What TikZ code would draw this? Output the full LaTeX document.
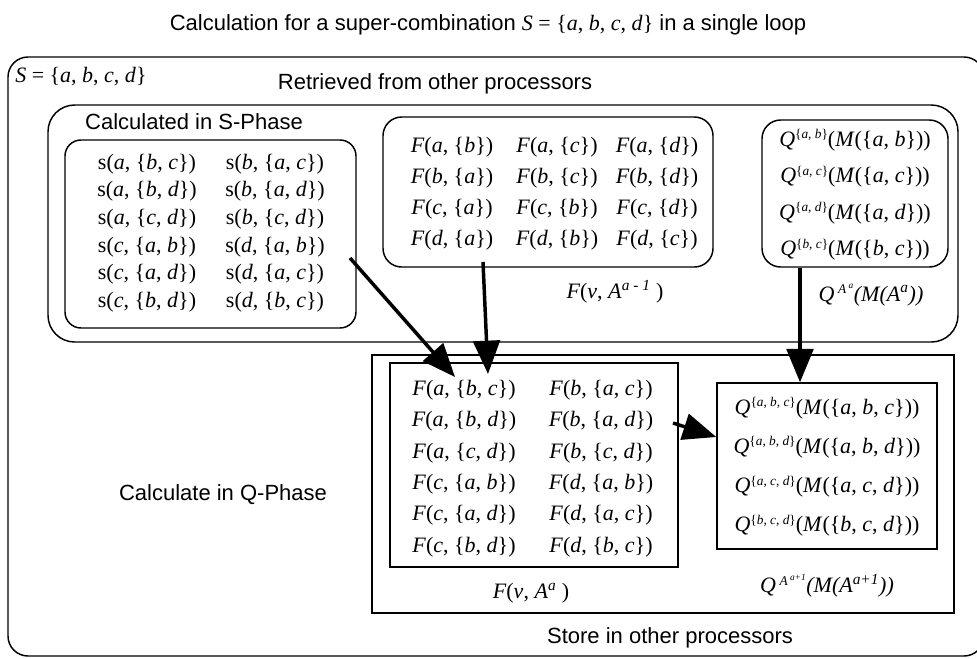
\documentclass[tikz,border=0pt]{standalone}
\usepackage{fontspec}
\setmainfont{Liberation Sans}
\newfontfamily\tms{Liberation Serif}
\usetikzlibrary{arrows.meta,fit}

% entries of the boxes
\newcommand{\vi}[1]{\textit{#1}}
\newcommand{\hi}[1]{\raisebox{0.75ex}{\fontsize{10}{10}\selectfont #1}}
\newcommand{\sent}[3]{s(\vi{#1}, \{\vi{#2}, \vi{#3}\})}
\newcommand{\fone}[2]{\vi{F}(\vi{#1}, \{\vi{#2}\})}
\newcommand{\ftwo}[3]{\vi{F}(\vi{#1}, \{\vi{#2}, \vi{#3}\})}
\newcommand{\qtwo}[2]{\vi{Q}\hi{\{\vi{#1}, \vi{#2}\}}(\vi{M}(\{\vi{#1}, \vi{#2}\}))}
\newcommand{\qthree}[3]{\vi{Q}\hi{\{\vi{#1}, \vi{#2}, \vi{#3}\}}(\vi{M}(\{\vi{#1}, \vi{#2}, \vi{#3}\}))}

\begin{document}
\begin{tikzpicture}[x=0.75pt, y=-0.75pt,
  lbl/.style={font=\fontsize{16.5}{18}\selectfont, inner sep=0pt},
  cell/.style={font=\tms\fontsize{16.5}{18}\selectfont, inner sep=0pt},
  rbox/.style={draw, line width=1.1pt, inner sep=0pt},
  arr/.style={line width=2.6pt, -{Triangle[length=25pt,width=20pt]}}]
  \useasboundingbox (0,0) rectangle (977,658);

  \node[lbl] (title) at (488,25)
    {Calculation for a super-combination {\tms\vi{S} = \{\vi{a}, \vi{b}, \vi{c}, \vi{d}\}} in a single loop};

  % containers
  \node[rbox, rounded corners=15pt, fit={(8,57) (984,656)}] (outer) {};
  \node[rbox, rounded corners=20pt, fit={(48,105) (958,342)}] (retr) {};
  \node[rbox, rounded corners=12pt, fit={(65,140) (356,328)}] (sbox) {};
  \node[rbox, rounded corners=14pt, fit={(383,117) (713,267)}] (fold) {};
  \node[rbox, rounded corners=14pt, fit={(762,120) (948,267)}] (qold) {};
  \node[rbox, fit={(372,355) (954,613)}] (qphase) {};
  \node[rbox, fit={(390,363) (678,567)}] (fnew) {};
  \node[rbox, fit={(717,383) (937,549)}] (qnew) {};

  \node[cell, anchor=west] (sset) at (15,77) {\vi{S} = \{\vi{a}, \vi{b}, \vi{c}, \vi{d}\}};
  \node[lbl] (retrlbl) at (435,84) {Retrieved from other processors};
  \node[lbl] (slbl) at (194,122) {Calculated in S-Phase};
  \node[lbl] (qlbl) at (223,495) {Calculate in Q-Phase};
  \node[lbl] (store) at (670,638) {Store in other processors};

  % S-Phase values
  \foreach \a/\b/\c/\d/\e/\f [count=\i from 0] in
      {a/b/c/b/a/c, a/b/d/b/a/d, a/c/d/b/c/d, c/a/b/d/a/b, c/a/d/d/a/c, c/b/d/d/b/c} {
    \node[cell] (sl\i) at (147,164+27.6*\i) {\sent\a\b\c};
    \node[cell] (sr\i) at (275,164+27.6*\i) {\sent\d\e\f};
  }
  % retrieved F and Q
  \foreach \v/\p/\q/\r [count=\i from 0] in {a/b/c/d, b/a/c/d, c/a/b/d, d/a/b/c} {
    \node[cell] (fa\i) at (452,147+31*\i) {\fone\v\p};
    \node[cell] (fb\i) at (557,147+31*\i) {\fone\v\q};
    \node[cell] (fc\i) at (657,147+31*\i) {\fone\v\r};
  }
  \foreach \p/\q [count=\i from 0] in {a/b, a/c, a/d, b/c}
    \node[cell] (qa\i) at (855,140+36.5*\i) {\qtwo\p\q};
  \node[cell] (foldlbl) at (615,292) {\vi{F}(\vi{v}, \vi{A}\textsuperscript{\vi{a - 1}} )};
  \node[cell] (qoldlbl) at (871,295) {\vi{Q\,\hi{A\,\textsuperscript{a}}(M(A\textsuperscript{a}))}};

  % Q-Phase values
  \foreach \a/\b/\c/\d/\e/\f [count=\i from 0] in
      {a/b/c/b/a/c, a/b/d/b/a/d, a/c/d/b/c/d, c/a/b/d/a/b, c/a/d/d/a/c, c/b/d/d/b/c} {
    \node[cell] (fl\i) at (464,390+31.4*\i) {\ftwo\a\b\c};
    \node[cell] (fr\i) at (601,390+31.4*\i) {\ftwo\d\e\f};
  }
  \foreach \p/\q/\r [count=\i from 0] in {a/b/c, a/b/d, a/c/d, b/c/d}
    \node[cell] (qb\i) at (827,408+39.3*\i) {\qthree\p\q\r};
  \node[cell] (fnewlbl) at (531,593) {\vi{F}(\vi{v}, \vi{A}\textsuperscript{\vi{a}} )};
  \node[cell] (qnewlbl) at (827,586) {\vi{Q\,\hi{A\,\textsuperscript{a+1}}(M(A\textsuperscript{a+1}))}};

  % flows
  \coordinate (sout) at (350,258);
  \coordinate (sin) at (455,377);
  \coordinate (fout) at (483,262);
  \coordinate (fin) at (488,374);
  \coordinate (fnout) at (673,423);
  \draw[arr] (sout) -- (sin);
  \draw[arr] (fout) -- (fin);
  \draw[arr] (qold.south -| 800,0) -- (qnew.north -| 800,0);
  \draw[arr] (fnout) -- (qnew.west |- 0,437);
\end{tikzpicture}
\end{document}
